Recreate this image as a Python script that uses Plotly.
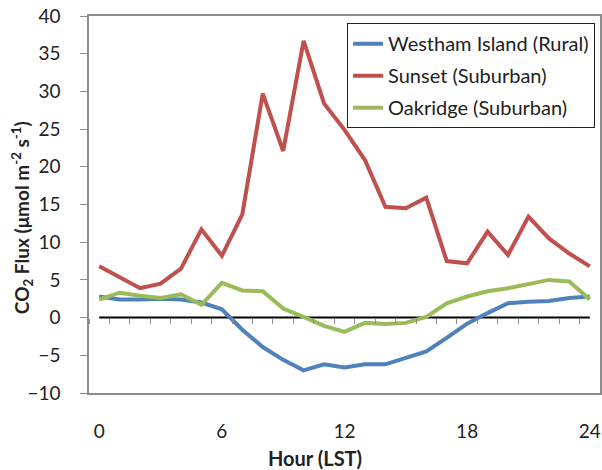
import plotly.graph_objects as go

hours = list(range(25))
westham = [2.8, 2.4, 2.4, 2.5, 2.4, 2.0, 1.1, -1.6, -3.9, -5.6, -7.0, -6.2, -6.6,
           -6.2, -6.2, -5.3, -4.5, -2.7, -0.8, 0.6, 1.9, 2.1, 2.2, 2.6, 2.8]
sunset = [6.8, 5.3, 3.9, 4.5, 6.5, 11.7, 8.2, 13.7, 29.7, 22.1, 36.7, 28.4, 24.9,
          20.9, 14.7, 14.5, 15.9, 7.5, 7.2, 11.4, 8.3, 13.4, 10.5, 8.5, 6.8]
oakridge = [2.4, 3.3, 2.9, 2.6, 3.1, 1.7, 4.6, 3.6, 3.5, 1.2, 0.1, -1.1, -1.9,
            -0.7, -0.85, -0.7, 0.1, 1.9, 2.8, 3.5, 3.9, 4.5, 5.0, 4.8, 2.4]
zero = [0] * 25
x_ticks = [0, 6, 12, 18, 24]
y_ticks = [-10, -5, 0, 5, 10, 15, 20, 25, 30, 35, 40]

FONT = "Lato"
fig = go.Figure()
fig.add_trace(go.Scatter(x=hours, y=zero, mode="lines", showlegend=False,
                         line=dict(color="black", width=2), hoverinfo="skip"))
fig.add_trace(go.Scatter(x=hours, y=westham, mode="lines", name="Westham Island (Rural)",
                         legendgroup="a", line=dict(color="#4F81BD", width=4)))
fig.add_trace(go.Scatter(x=hours, y=sunset, mode="lines", name="Sunset (Suburban)",
                         legendgroup="b", line=dict(color="#C0504D", width=4)))
fig.add_trace(go.Scatter(x=hours, y=oakridge, mode="lines", name="Oakridge (Suburban)",
                         legendgroup="c", line=dict(color="#9BBB59", width=4)))
# invisible trace to activate the axis at y=0 carrying the category ticks
fig.add_trace(go.Scatter(x=[hours[0]], y=[0], xaxis="x2", mode="lines",
                         showlegend=False, hoverinfo="skip", line=dict(width=0)))

fig.update_layout(
    width=602, height=470,
    margin=dict(l=89, r=2, t=16, b=77),
    paper_bgcolor="white", plot_bgcolor="white",
    font=dict(family=FONT, size=19, color="#222"),
    xaxis=dict(range=[-0.5, 24.5], tickvals=x_ticks, ticks="", showgrid=False,
               zeroline=False, showline=True, linecolor="#8c8c8c", linewidth=1.5,
               mirror=True, tickfont=dict(size=19), ticklabelstandoff=20,
               ticklabeloverflow="allow", automargin=False),
    xaxis2=dict(range=[-0.5, 24.5], overlaying="x", anchor="free", position=0.2,
                side="bottom", tick0=0.5, dtick=1, ticks="outside", ticklen=5,
                tickcolor="#8c8c8c", showticklabels=False, showgrid=False,
                zeroline=False, showline=False, automargin=False),
    yaxis=dict(range=[-10, 40], tickvals=y_ticks, showgrid=False, zeroline=False,
               showline=True, linecolor="#8c8c8c", linewidth=1.5, mirror=True,
               ticks="outside", ticklen=7, tickcolor="#8c8c8c",
               tickfont=dict(size=19), ticklabelstandoff=16,
               ticklabeloverflow="allow", automargin=False),
    legend=dict(x=0.505, y=0.981, xanchor="left", yanchor="top",
                bordercolor="#222", borderwidth=1, bgcolor="white",
                font=dict(size=20), tracegroupgap=3, itemwidth=30),
    annotations=[
        dict(text="<b>Hour (LST)</b>", xref="paper", yref="paper", x=0.442, y=-0.172,
             xanchor="center", yanchor="middle", showarrow=False, font=dict(size=20)),
        dict(text="<b>CO<sub>2</sub> Flux (μmol m<sup>-2</sup> s<sup>-1</sup>)</b>",
             xref="paper", yref="paper", x=-0.131, y=0.464, textangle=-90,
             xanchor="center", yanchor="middle", showarrow=False, font=dict(size=19)),
    ],
)
fig.write_html("out.html", config={"displayModeBar": False},
               post_script="document.body.style.margin='0';")
